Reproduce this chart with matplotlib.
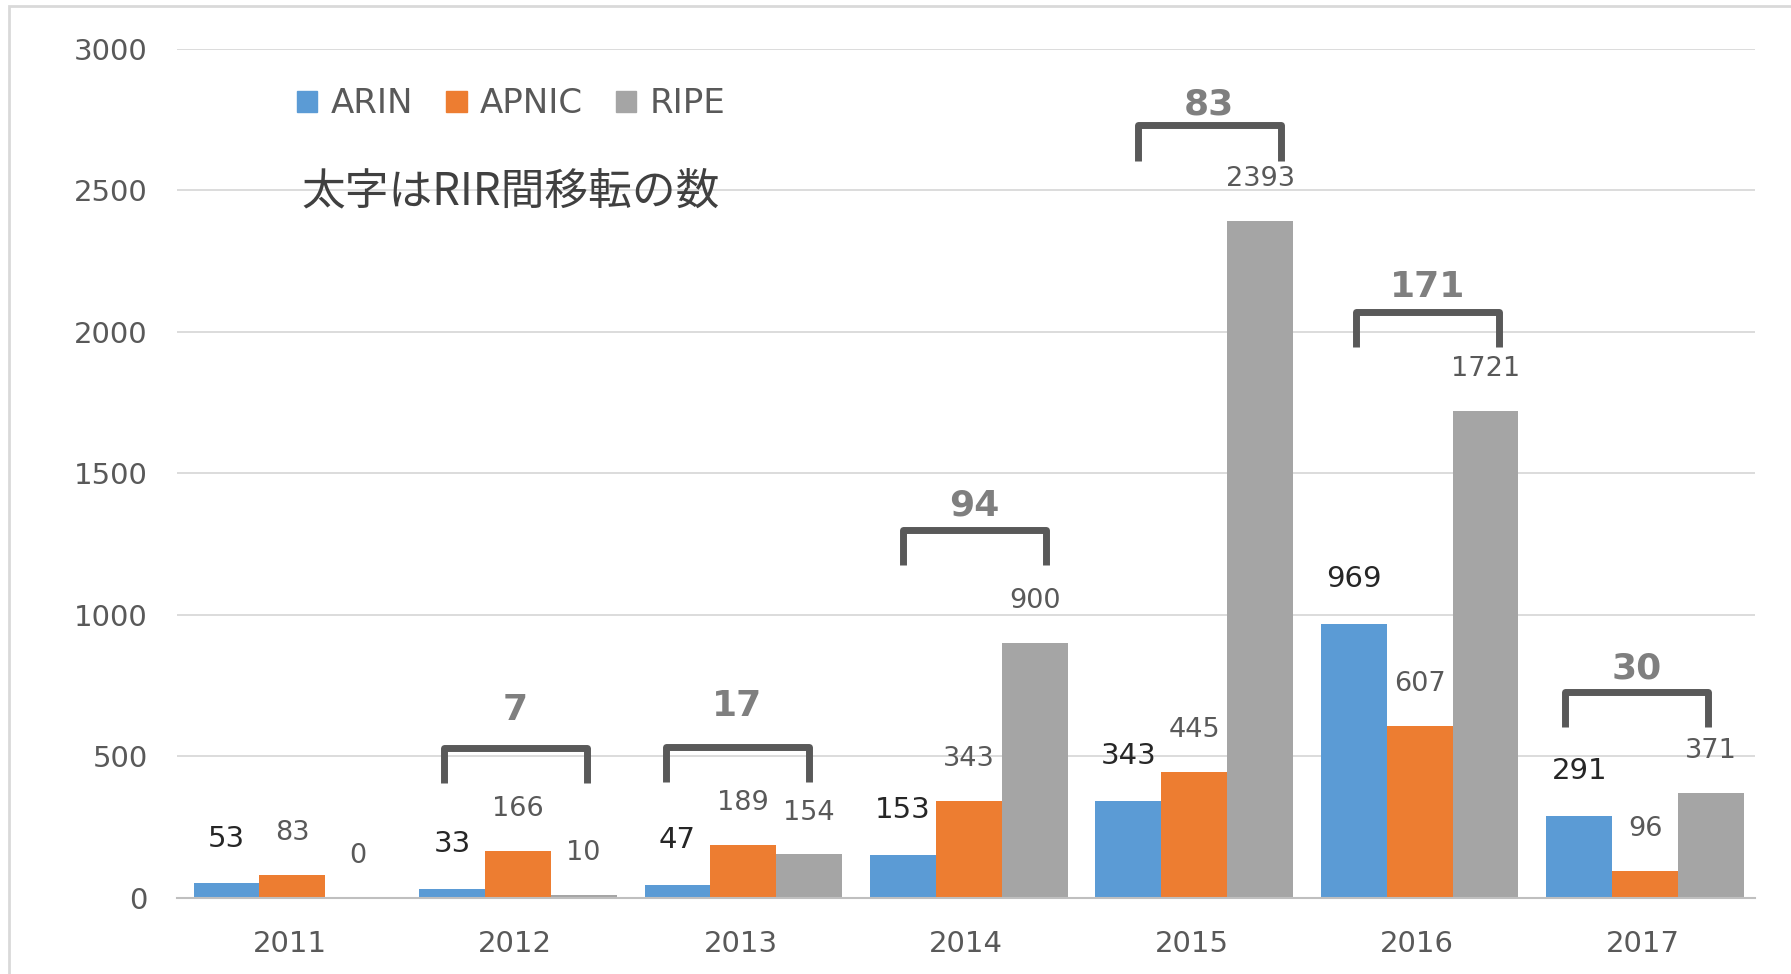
import numpy as np
import matplotlib
matplotlib.use("Agg")
import matplotlib.pyplot as plt
from matplotlib.patches import Patch, Rectangle

# data
years = ["2011", "2012", "2013", "2014", "2015", "2016", "2017"]
arin = [53, 33, 47, 153, 343, 969, 291]
apnic = [83, 166, 189, 343, 445, 607, 96]
ripe = [0, 10, 154, 900, 2393, 1721, 371]
# inter-RIR transfers (bold numbers over the brackets), none for 2011
inter_rir = [None, 7, 17, 94, 83, 171, 30]

# layout only: hand placed brackets in the original
bracket_shift = [0.0, 0.0, -0.015, 0.038, 0.079, 0.048, -0.025]
bracket_lift = [0, 0, -20, 36, -28, -16, -8]
number_gap = [0, 133, 145, 85, 73, 89, 81]

series = [("ARIN", arin, "#5B9BD5"), ("APNIC", apnic, "#ED7D31"), ("RIPE", ripe, "#A5A5A5")]

plt.rcParams['font.family'] = ['DejaVu Sans', 'Noto Sans CJK JP']

fig = plt.figure(figsize=(17.91, 9.74), dpi=100)
ax = fig.add_axes([0.0988, 0.078, 0.8812, 0.872])

x = np.arange(len(years))
w = 0.292
for i, (name, vals, col) in enumerate(series):
    pos = x + (i - 1) * w + 0.012
    ax.bar(pos, vals, width=w, color=col, zorder=3)
    for p, v in zip(pos, vals):
        if name == "ARIN":
            ax.text(p, v + 157, str(v), ha="center", va="center", fontsize=21, color="#262626")
        else:
            ax.text(p, v + 148, str(v), ha="center", va="center", fontsize=19.5, color="#595959")

# brackets with the inter-RIR counts
half = 0.317
leg = 125
for i, n in enumerate(inter_rir):
    if n is None:
        continue
    top = max(arin[i], apnic[i], ripe[i]) + 365 + bracket_lift[i]
    cx = x[i] + bracket_shift[i]
    ax.plot([cx - half, cx - half, cx + half, cx + half],
            [top - leg, top, top, top - leg],
            color="#595959", lw=5, solid_joinstyle="round", solid_capstyle="butt", zorder=4)
    ax.text(cx, top + number_gap[i], str(n), ha="center", va="center", fontsize=26,
            fontweight="bold", color="#7F7F7F")

ax.set_xlim(-0.5, len(years) - 0.5)
ax.set_ylim(0, 3000)
ax.set_yticks(range(0, 3001, 500))
ax.set_xticks(x)
ax.set_xticklabels(years)
ax.tick_params(axis="both", length=0, labelsize=21, labelcolor="#595959")
ax.tick_params(axis="y", pad=21)
ax.tick_params(axis="x", pad=23)
ax.grid(axis="y", color="#D9D9D9", lw=1.3, zorder=0)
for s in ["top", "right", "left"]:
    ax.spines[s].set_visible(False)
ax.spines["bottom"].set_color("#BFBFBF")
ax.spines["bottom"].set_linewidth(1.5)
ax.spines["bottom"].set_zorder(3.5)

handles = [Patch(color=c, label=n) for n, _, c in series]
ax.legend(handles=handles, loc="center left", bbox_to_anchor=(0.076, 0.935), ncol=3,
          frameon=False, fontsize=24.5, handlelength=0.6, handleheight=0.6,
          handletextpad=0.38, columnspacing=0.98, borderpad=0, borderaxespad=0,
          labelcolor="#595959")

ax.text(0.079, 0.832, "太字はRIR間移転の数", transform=ax.transAxes, ha="left", va="center",
        fontsize=31.5, color="#404040", family=["Noto Sans CJK JP", "DejaVu Sans"])

# light frame round the chart area
fig.patches.append(Rectangle((9 / 1791, -0.05), 1.2, 1.05 - 6 / 974, transform=fig.transFigure,
                             fill=False, edgecolor="#D9D9D9", lw=2))

fig.savefig("out.png", dpi=100)
